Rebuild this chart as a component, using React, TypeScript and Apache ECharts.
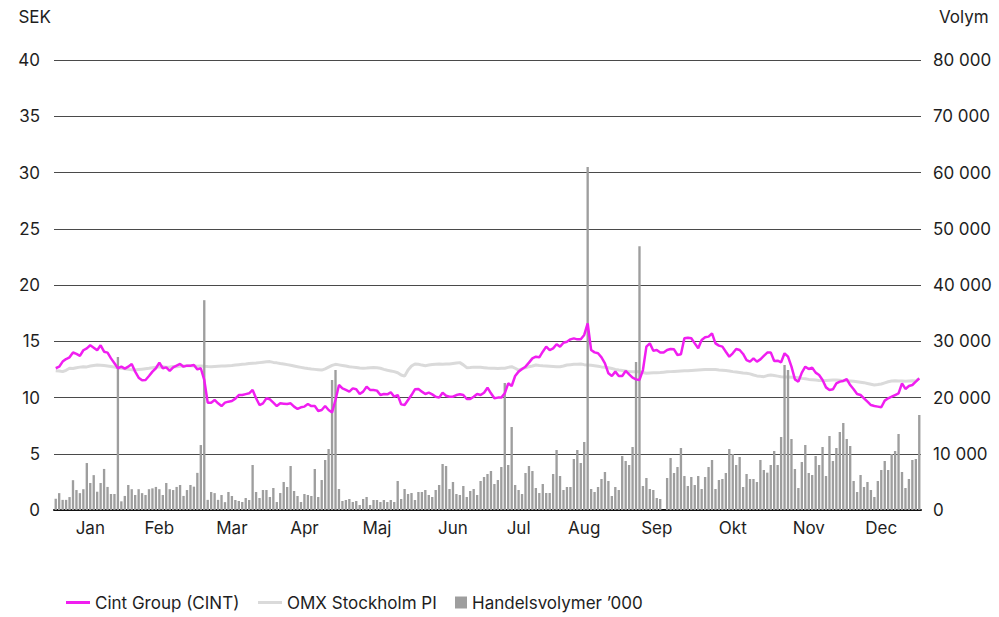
import React, { useEffect, useRef } from 'react';
import * as echarts from 'echarts';

const months = ['Jan', 'Feb', 'Mar', 'Apr', 'Maj', 'Jun', 'Jul', 'Aug', 'Sep', 'Okt', 'Nov', 'Dec'];
const monthLabelIdx = [10, 30, 51, 72, 93, 115, 134, 153, 174, 196, 218, 239];

const CINT_NAME = 'Cint Group (CINT)';
const OMX_NAME = 'OMX Stockholm PI';
const VOL_NAME = 'Handelsvolymer \u2019000';

// Cint Group closing price (SEK), trading days Jan–Dec
const cintJanFeb = [12.6, 12.74, 13.19, 13.42, 13.57, 14.0, 13.87, 13.7, 14.2, 14.37, 14.64, 14.43, 14.2, 14.64, 14.07, 13.99, 13.48, 13.04, 12.6, 12.74, 12.56, 12.74, 12.98, 12.3, 11.76, 11.53, 11.56, 11.91, 12.3, 12.6, 13.1, 12.6, 12.68, 12.36, 12.68, 12.83, 12.98, 12.74, 12.83, 12.83, 12.89, 12.5, 12.6, 11.56, 9.54, 9.54, 9.78, 9.48, 9.24, 9.54];
const cintMarMay = [9.63, 9.69, 9.9, 10.22, 10.22, 10.3, 10.37, 10.67, 9.93, 9.33, 9.48, 9.93, 9.84, 9.54, 9.24, 9.48, 9.45, 9.42, 9.48, 9.19, 8.98, 9.13, 9.19, 9.42, 9.24, 9.24, 8.8, 8.89, 9.24, 8.89, 8.68, 9.78, 11.11, 10.81, 10.67, 10.52, 10.81, 10.73, 10.31, 10.52, 10.96, 10.67, 10.67, 10.61, 10.22, 10.31, 10.28, 10.46, 10.07, 10.22, 9.39];
const cintMayAug = [9.33, 9.78, 10.22, 10.73, 10.76, 10.52, 10.31, 10.43, 10.28, 10.07, 9.99, 10.43, 10.16, 10.07, 10.07, 10.22, 10.28, 10.22, 9.87, 9.87, 10.07, 10.31, 10.22, 10.43, 10.87, 10.37, 9.93, 9.99, 9.99, 10.37, 11.26, 11.02, 11.91, 12.3, 12.53, 12.74, 13.1, 13.48, 13.63, 13.57, 14.07, 14.52, 14.22, 14.37, 14.73, 14.52, 14.87, 14.96, 15.17, 15.26, 15.17];
const cintAugOct = [15.17, 15.56, 16.59, 14.22, 14.01, 13.93, 13.57, 13.04, 12.15, 11.91, 12.3, 11.91, 11.91, 12.36, 12.06, 11.76, 11.61, 11.56, 12.44, 14.52, 14.81, 14.16, 14.22, 13.99, 13.99, 14.22, 14.31, 14.28, 13.78, 13.84, 15.26, 15.32, 15.26, 14.81, 14.37, 15.11, 15.35, 15.41, 15.7, 14.81, 14.61, 14.52, 14.07, 13.63, 13.93, 14.31, 14.22, 13.87, 13.33, 13.19];
const cintOctDec = [13.48, 13.19, 13.39, 13.7, 13.99, 14.01, 13.24, 13.27, 13.13, 13.93, 13.63, 12.74, 11.61, 11.41, 12.21, 12.74, 12.53, 12.65, 12.21, 12.0, 11.56, 10.9, 10.67, 10.73, 11.26, 11.41, 11.47, 11.64, 11.11, 10.73, 10.31, 10.22, 9.93, 9.63, 9.33, 9.24, 9.19, 9.13, 9.72, 9.93, 10.07, 10.22, 10.37, 11.26, 10.76, 11.02, 11.11, 11.41, 11.7];

// OMX Stockholm PI, rebased to SEK scale
const omxValues = [
  12.38, 12.35, 12.3, 12.42, 12.6, 12.58, 12.65, 12.7, 12.74, 12.72,
  12.8, 12.85, 12.89, 12.87, 12.84, 12.8, 12.76, 12.7, 12.65, 12.6,
  12.55, 12.5, 12.47, 12.44, 12.48, 12.52, 12.56, 12.6, 12.65, 12.7,
  12.72, 12.74, 12.7, 12.72, 12.76, 12.74, 12.78, 12.8, 12.82, 12.83,
  12.81, 12.78, 12.8, 12.77, 12.75, 12.74, 12.76, 12.78, 12.8, 12.8,
  12.83, 12.85, 12.89, 12.92, 12.95, 12.98, 13.02, 13.04, 13.06, 13.1,
  13.14, 13.17, 13.19, 13.12, 13.08, 13.02, 12.98, 12.92, 12.86, 12.8,
  12.74, 12.68, 12.62, 12.57, 12.53, 12.5, 12.47, 12.44, 12.55, 12.7,
  12.85, 12.95, 12.9, 12.85, 12.8, 12.74, 12.7, 12.66, 12.62, 12.6,
  12.62, 12.65, 12.67, 12.65, 12.6, 12.5, 12.42, 12.36, 12.3, 12.2,
  12.0, 11.9, 12.44, 12.8, 12.98, 12.95, 12.88, 12.83, 12.88, 12.93,
  12.96, 12.98, 12.95, 12.98, 12.98, 13.02, 13.06, 13.1, 12.9, 12.65,
  12.66, 12.7, 12.68, 12.68, 12.65, 12.62, 12.6, 12.6, 12.58, 12.6,
  12.6, 12.68, 12.74, 12.6, 12.44, 12.55, 12.65, 12.74, 12.8, 12.89,
  12.85, 12.82, 12.8, 12.78, 12.76, 12.74, 12.74, 12.8, 12.89, 12.92,
  12.95, 12.96, 12.98, 12.92, 12.89, 12.86, 12.83, 12.78, 12.72, 12.68,
  12.65, 12.58, 12.5, 12.44, 12.4, 12.35, 12.3, 12.28, 12.3, 12.3,
  12.22, 12.15, 12.18, 12.2, 12.2, 12.22, 12.25, 12.28, 12.3, 12.32,
  12.34, 12.36, 12.38, 12.38, 12.4, 12.42, 12.44, 12.46, 12.48, 12.5,
  12.5, 12.48, 12.44, 12.42, 12.4, 12.36, 12.3, 12.26, 12.22, 12.18,
  12.15, 12.1, 12.0, 11.92, 11.88, 11.85, 11.95, 12.0, 11.95, 11.9,
  11.85, 11.83, 11.82, 11.8, 11.79, 11.75, 11.7, 11.66, 11.61, 11.58,
  11.55, 11.52, 11.5, 11.52, 11.54, 11.56, 11.56, 11.53, 11.5, 11.48,
  11.47, 11.44, 11.4, 11.36, 11.32, 11.25, 11.18, 11.11, 11.15, 11.2,
  11.3, 11.4, 11.47, 11.48, 11.46, 11.47, 11.45, 11.47, 11.48, 11.47,
  11.7,
];

// Trading volume (right axis)
const volJanFeb = [2000, 3000, 1800, 1800, 2300, 5300, 3550, 3000, 3700, 8350, 4800, 6200, 3250, 4800, 7300, 4100, 2850, 2850, 27200, 1540, 2500, 4450, 3700, 2670, 3700, 3000, 2670, 3700, 3850, 4100, 3700, 2670, 4800, 3700, 3550, 4100, 4450, 2500, 3550, 4450, 4150, 6600, 11550, 37300, 1800, 3200, 3000, 1800, 2670, 1400];
const volMarMay = [3200, 2490, 1780, 1600, 1420, 2130, 1780, 8000, 3200, 2130, 3560, 3560, 2310, 3910, 1420, 3020, 4980, 4090, 7820, 3380, 2490, 1420, 2840, 2670, 2490, 7290, 2310, 5330, 8890, 10840, 23110, 24890, 3730, 1600, 1780, 1960, 1420, 1600, 890, 1960, 2310, 890, 1780, 1780, 1420, 1780, 1420, 1780, 1420, 5160, 1960];
const volMayAug = [3730, 2840, 3020, 1780, 3200, 3200, 3560, 2670, 2310, 3560, 4440, 8180, 7820, 3730, 4980, 2840, 2670, 4270, 2310, 3380, 3730, 2670, 5160, 5870, 6400, 6930, 4620, 5330, 7640, 22580, 8000, 14760, 4440, 3560, 2840, 6580, 7820, 6930, 3910, 3020, 4620, 3020, 3020, 6400, 10670, 6040, 3560, 4090, 4090, 9070, 10670];
const volAugOct = [8360, 12090, 61000, 3730, 3200, 4090, 5510, 6760, 5160, 2490, 4090, 3560, 9600, 8710, 8000, 11200, 26310, 46900, 4270, 5690, 3730, 3560, 2130, 1960, 0, 5690, 9240, 6580, 7640, 11020, 6040, 4270, 5870, 4440, 6040, 3730, 5870, 7640, 8890, 3730, 5330, 5510, 6580, 10840, 9960, 8000, 9420, 4090, 6400, 5510];
const volOctDec = [5510, 4980, 8890, 7110, 6640, 8000, 10490, 8000, 12980, 25780, 24890, 12620, 7290, 3910, 8530, 11560, 6580, 6220, 9600, 8000, 11200, 6040, 13160, 8710, 11020, 13870, 15470, 12620, 11380, 5160, 3200, 6220, 4090, 4980, 3560, 2310, 5160, 7110, 8710, 7110, 9960, 10490, 13510, 6760, 3910, 5510, 8890, 9070, 16890];

const cintValues = [...cintJanFeb, ...cintMarMay, ...cintMayAug, ...cintAugOct, ...cintOctDec];
const volValues = [...volJanFeb, ...volMarMay, ...volMayAug, ...volAugOct, ...volOctDec];
const days = cintValues.map((_, i) => 'd' + i);

const FONT = 'Inter, "Noto Sans", "DejaVu Sans", sans-serif';
const TEXT = '#1e1e1e';
const MAGENTA = '#f01ef0';
const OMX_GRAY = '#dadada';
const BAR_GRAY = '#9e9e9e';
const FS = 17;

const fmtThousands = (v: number) => String(v).replace(/\B(?=(\d{3})+(?!\d))/g, ' ');

export default function App() {
  const ref = useRef<HTMLDivElement>(null);
  useEffect(() => {
    document.body.style.margin = '0';
    const chart = echarts.init(ref.current!, null, { renderer: 'svg' });
    const legendText = { fontSize: FS, color: TEXT, fontFamily: FONT };
    chart.setOption({
      animation: false,
      textStyle: { fontFamily: FONT },
      grid: { left: 54, right: 78, top: 60, bottom: 107, containLabel: false },
      legend: [
        { data: [{ name: CINT_NAME, icon: 'rect' }], left: 66, top: 594, itemWidth: 24, itemHeight: 3, textStyle: legendText, selectedMode: false, padding: 0 },
        { data: [{ name: OMX_NAME, icon: 'rect' }], left: 258, top: 594, itemWidth: 24, itemHeight: 3, textStyle: legendText, selectedMode: false, padding: 0 },
        { data: [{ name: VOL_NAME, icon: 'rect' }], left: 455, top: 594, itemWidth: 12, itemHeight: 12, textStyle: legendText, selectedMode: false, padding: 0 },
      ],
      xAxis: {
        type: 'category',
        data: days,
        boundaryGap: true,
        axisLine: { lineStyle: { color: '#111', width: 2 } },
        axisTick: { show: false },
        axisLabel: {
          interval: (i: number) => monthLabelIdx.includes(i),
          formatter: (_v: string, i: number) => {
            const k = monthLabelIdx.indexOf(i);
            return k >= 0 ? months[k] : '';
          },
          fontSize: FS,
          color: TEXT,
          margin: 9,
          fontFamily: FONT,
        },
      },
      yAxis: [
        {
          type: 'value',
          min: 0,
          max: 40,
          interval: 5,
          name: 'SEK',
          nameLocation: 'end',
          nameGap: 43,
          nameTextStyle: { fontSize: FS, color: TEXT, align: 'right', verticalAlign: 'middle', padding: [0, 3, 0, 0], fontFamily: FONT },
          axisLine: { show: false },
          axisTick: { show: false },
          axisLabel: { fontSize: FS, color: TEXT, margin: 14, fontFamily: FONT },
          splitLine: { lineStyle: { color: '#4a4a4a', width: 1 } },
        },
        {
          type: 'value',
          min: 0,
          max: 80000,
          interval: 10000,
          position: 'right',
          name: 'Volym',
          nameLocation: 'end',
          nameGap: 43,
          nameTextStyle: { fontSize: FS, color: TEXT, align: 'left', verticalAlign: 'middle', padding: [0, 0, 0, 18], fontFamily: FONT },
          axisLine: { show: false },
          axisTick: { show: false },
          axisLabel: { fontSize: FS, color: TEXT, margin: 12, formatter: fmtThousands, fontFamily: FONT },
          splitLine: { show: false },
        },
      ],
      series: [
        {
          name: OMX_NAME,
          type: 'line',
          data: omxValues,
          symbol: 'none',
          showSymbol: false,
          lineStyle: { color: OMX_GRAY, width: 3 },
          itemStyle: { color: OMX_GRAY },
          z: 1,
        },
        {
          name: VOL_NAME,
          type: 'bar',
          yAxisIndex: 1,
          data: volValues,
          barWidth: '68%',
          itemStyle: { color: BAR_GRAY },
          z: 2,
        },
        {
          name: CINT_NAME,
          type: 'line',
          data: cintValues,
          symbol: 'none',
          showSymbol: false,
          lineStyle: { color: MAGENTA, width: 2.5 },
          itemStyle: { color: MAGENTA },
          z: 3,
        },
      ],
    });
    return () => chart.dispose();
  }, []);
  return <div ref={ref} style={{ width: 999, height: 617 }} />;
}
